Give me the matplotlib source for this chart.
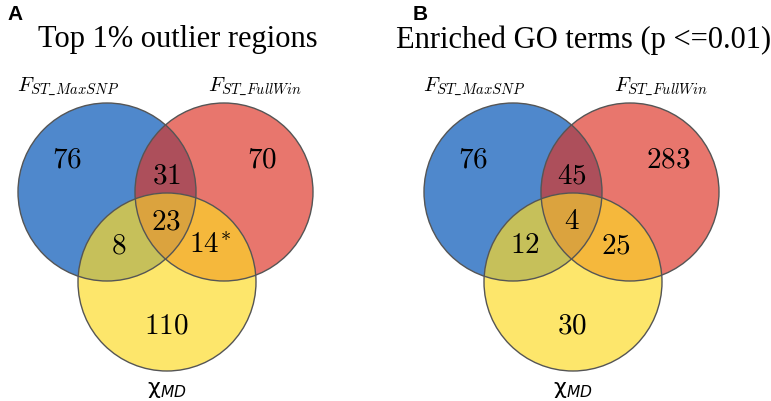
import numpy as np
import matplotlib
matplotlib.use("Agg")
import matplotlib.pyplot as plt
from matplotlib.patches import Circle, Polygon

# panel data
titles = ["Top 1% outlier regions", "Enriched GO terms (p <=0.01)"]
panel_letters = ["A", "B"]
set_names = [r"$F_{ST\_MaxSNP}$", r"$F_{ST\_FullWin}$", r"χ$_{MD}$"]
# region order: only1, only2, only3, 1&2, 1&3, 2&3, 1&2&3
counts_a = ["76", "70", "110", "31", "8", "14*", "23"]
counts_b = ["76", "283", "30", "45", "12", "25", "4"]

# fill colours for each region (same order)
region_colors = ["#4f88cc", "#e8766d", "#fde66b", "#ad4f5b", "#c6c05a", "#f5b83c", "#dba33e"]
edge = "#555555"

plt.rcParams["mathtext.fontset"] = "cm"

fig = plt.figure(figsize=(7.71, 4.01), dpi=100)
ax = fig.add_axes([0, 0, 1, 1])
ax.set_xlim(0, 771)
ax.set_ylim(401, 0)
ax.set_aspect("equal")
ax.axis("off")

R = 89


def inside(p, c):
    return np.hypot(p[:, 0] - c[0], p[:, 1] - c[1]) <= R + 1e-6


def draw_venn(x0, counts, title, letter):
    centers = [(x0 + 107, 192), (x0 + 224, 192), (x0 + 167, 282)]
    circs = []
    for i, c in enumerate(centers):
        p = Circle(c, R, facecolor=region_colors[i], edgecolor="none", zorder=1)
        ax.add_patch(p)
        circs.append(p)
    # pairwise overlaps
    for k, (i, j) in enumerate([(0, 1), (0, 2), (1, 2)]):
        p = Circle(centers[i], R, facecolor=region_colors[3 + k], edgecolor="none", zorder=2)
        ax.add_patch(p)
        p.set_clip_path(circs[j])
    # triple overlap as polygon
    t = np.linspace(0, 2 * np.pi, 720)
    pts = []
    for i in range(3):
        ring = np.column_stack([centers[i][0] + R * np.cos(t), centers[i][1] + R * np.sin(t)])
        others = [centers[j] for j in range(3) if j != i]
        m = inside(ring, others[0]) & inside(ring, others[1])
        pts.append(ring[m])
    pts = np.vstack(pts)
    cen = pts.mean(axis=0)
    order = np.argsort(np.arctan2(pts[:, 1] - cen[1], pts[:, 0] - cen[0]))
    ax.add_patch(Polygon(pts[order], closed=True, facecolor=region_colors[6],
                         edgecolor="none", zorder=3))
    # outlines
    for c in centers:
        ax.add_patch(Circle(c, R, facecolor="none", edgecolor=edge, lw=1.0, zorder=4))

    # region labels
    label_pos = [(x0 + 67, 159), (x0 + 262, 159), (x0 + 166, 325),
                 (x0 + 166, 176), (x0 + 119, 245), (x0 + 210, 245), (x0 + 166, 221)]
    for txt, (x, y) in zip(counts, label_pos):
        if txt.endswith("*"):
            s = "$" + txt[:-1] + "^{\\!*}$"
        else:
            s = "$" + txt + "$"
        ax.text(x, y, s, ha="center", va="center", fontsize=21, zorder=5)

    ax.text(x0 + 178, 40, title, ha="center", va="center", fontsize=22,
            family="Liberation Serif")
    ax.text(x0 + 7, 14, letter, ha="left", va="center", fontsize=15,
            fontweight="bold", family="Liberation Sans")
    ax.text(x0 + 68, 86, set_names[0], ha="center", va="center", fontsize=15)
    ax.text(x0 + 255, 86, set_names[1], ha="center", va="center", fontsize=15)
    ax.text(x0 + 167, 390, set_names[2], ha="center", va="center", fontsize=16,
            family="DejaVu Sans", math_fontfamily="dejavusans")


draw_venn(0, counts_a, titles[0], panel_letters[0])
draw_venn(406, counts_b, titles[1], panel_letters[1])

fig.savefig("out.png", dpi=100)
